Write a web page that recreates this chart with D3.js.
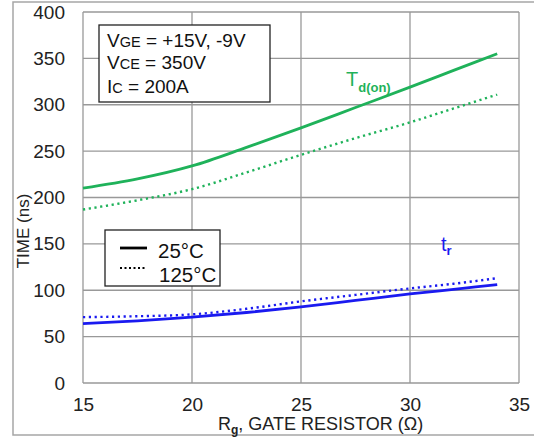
<!DOCTYPE html>
<html><head><meta charset="utf-8">
<script src="https://cdn.jsdelivr.net/npm/d3@7"></script>
<style>body{margin:0;background:#fff}text{font-family:"Liberation Sans",Arial,sans-serif}</style>
</head><body><svg id="c" width="534" height="437"></svg>
<script>
const rg = [15, 17.5, 20, 22.5, 25, 27.5, 30, 32, 34];
const tdon25 = [210, 220, 234, 254, 275, 297, 319, 337, 355];
const tdon125 = [187, 197, 209, 227, 246, 264, 281, 296, 311];
const tr25 = [64, 67, 71, 76, 82, 89, 96, 101, 106];
const tr125 = [71, 72, 74, 80, 88, 95, 102, 107, 113];
const xTicks = [15, 20, 25, 30, 35];
const yTicks = [0, 50, 100, 150, 200, 250, 300, 350, 400];
const green = "#1fb25a", blue = "#1a1af0";
const FF = "Liberation Sans, Arial, sans-serif";

const svg = d3.select("#c");
svg.append("rect").attr("x",13).attr("y",2).attr("width",522).attr("height",433)
  .attr("fill","none").attr("stroke","#a6a6a6").attr("stroke-width",1.5);

const x = d3.scaleLinear().domain([15,35]).range([83,519]);
const y = d3.scaleLinear().domain([0,400]).range([383,12]);

// grid
svg.append("g").selectAll("line").data(xTicks).join("line")
  .attr("x1",d=>x(d)).attr("x2",d=>x(d)).attr("y1",y(0)).attr("y2",y(400))
  .attr("stroke","#999").attr("stroke-width",1.3);
svg.append("g").selectAll("line").data(yTicks).join("line")
  .attr("x1",x(15)).attr("x2",x(35)).attr("y1",d=>y(d)).attr("y2",d=>y(d))
  .attr("stroke","#999").attr("stroke-width",1.3);

// axes labels
const xa = svg.append("g").attr("transform",`translate(0,${y(0)})`)
  .call(d3.axisBottom(x).tickValues(xTicks).tickSize(0).tickPadding(15));
xa.select(".domain").remove();
xa.selectAll("text").attr("font-size",19).attr("fill","#222").attr("font-family",FF);
const ya = svg.append("g").attr("transform",`translate(${x(15)},0)`)
  .call(d3.axisLeft(y).tickValues(yTicks).tickSize(0).tickPadding(18));
ya.select(".domain").remove();
ya.selectAll("text").attr("font-size",19).attr("fill","#222").attr("font-family",FF);

// axis titles
const xt = svg.append("text").attr("x",218).attr("y",430).attr("text-anchor","start")
  .attr("font-size",18).attr("fill","#222");
xt.append("tspan").text("R");
xt.append("tspan").attr("font-size",12).attr("font-weight","bold").attr("dy",4).text("g");
xt.append("tspan").attr("dy",-4).text(", GATE RESISTOR (Ω)");
svg.append("text").attr("transform","translate(29,231) rotate(-90)").attr("text-anchor","middle")
  .attr("font-size",17).attr("fill","#222").text("TIME (ns)");

// lines
const line = vals => d3.line().x((d,i)=>x(rg[i])).y(d=>y(d)).curve(d3.curveMonotoneX)(vals);
const series = [
  {v:tdon25,c:green,dash:null},{v:tdon125,c:green,dash:"2.2,3.6"},
  {v:tr25,c:blue,dash:null},{v:tr125,c:blue,dash:"2.2,3.6"}];
series.forEach(s=>{
  svg.append("path").attr("d",line(s.v)).attr("fill","none").attr("stroke",s.c)
    .attr("stroke-width",s.dash?2.4:2.8).attr("stroke-dasharray",s.dash);
});

// series labels
const t1 = svg.append("text").attr("x",346).attr("y",86).attr("fill",green).attr("font-size",20);
t1.append("tspan").text("T");
t1.append("tspan").attr("font-size",13).attr("font-weight","bold").attr("dy",6).text("d(on)");
const t2 = svg.append("text").attr("x",441).attr("y",251).attr("fill",blue).attr("font-size",20);
t2.append("tspan").text("t");
t2.append("tspan").attr("font-size",13).attr("font-weight","bold").attr("dy",4).text("r");

// condition box
svg.append("rect").attr("x",99).attr("y",25).attr("width",171).attr("height",77)
  .attr("fill","#fff").attr("stroke","#222").attr("stroke-width",1.3);
const cond = [["V","GE"," = +15V, -9V"],["V","CE"," = 350V"],["I","C"," = 200A"]];
const condY = [47, 69, 93];
cond.forEach((c,i)=>{
  const t = svg.append("text").attr("x",107).attr("y",condY[i]).attr("font-size",19).attr("fill","#111");
  t.append("tspan").text(c[0]);
  t.append("tspan").attr("font-size",14.5).text(c[1]);
  t.append("tspan").text(c[2]);
});

// legend
svg.append("rect").attr("x",105).attr("y",230).attr("width",115).attr("height",56)
  .attr("fill","#fff").attr("stroke","#222").attr("stroke-width",1.3);
const leg = [{l:"25°C",dash:null,yy:248,ty:258,tx:158},{l:"125°C",dash:"2,2.5",yy:268,ty:282,tx:159}];
leg.forEach(g=>{
  svg.append("line").attr("x1",120).attr("x2",147).attr("y1",g.yy).attr("y2",g.yy)
    .attr("stroke","#000").attr("stroke-width",g.dash?2:2.8).attr("stroke-dasharray",g.dash);
  svg.append("text").attr("x",g.tx).attr("y",g.ty).attr("font-size",20.5).attr("fill","#111").text(g.l);
});
</script></body></html>
